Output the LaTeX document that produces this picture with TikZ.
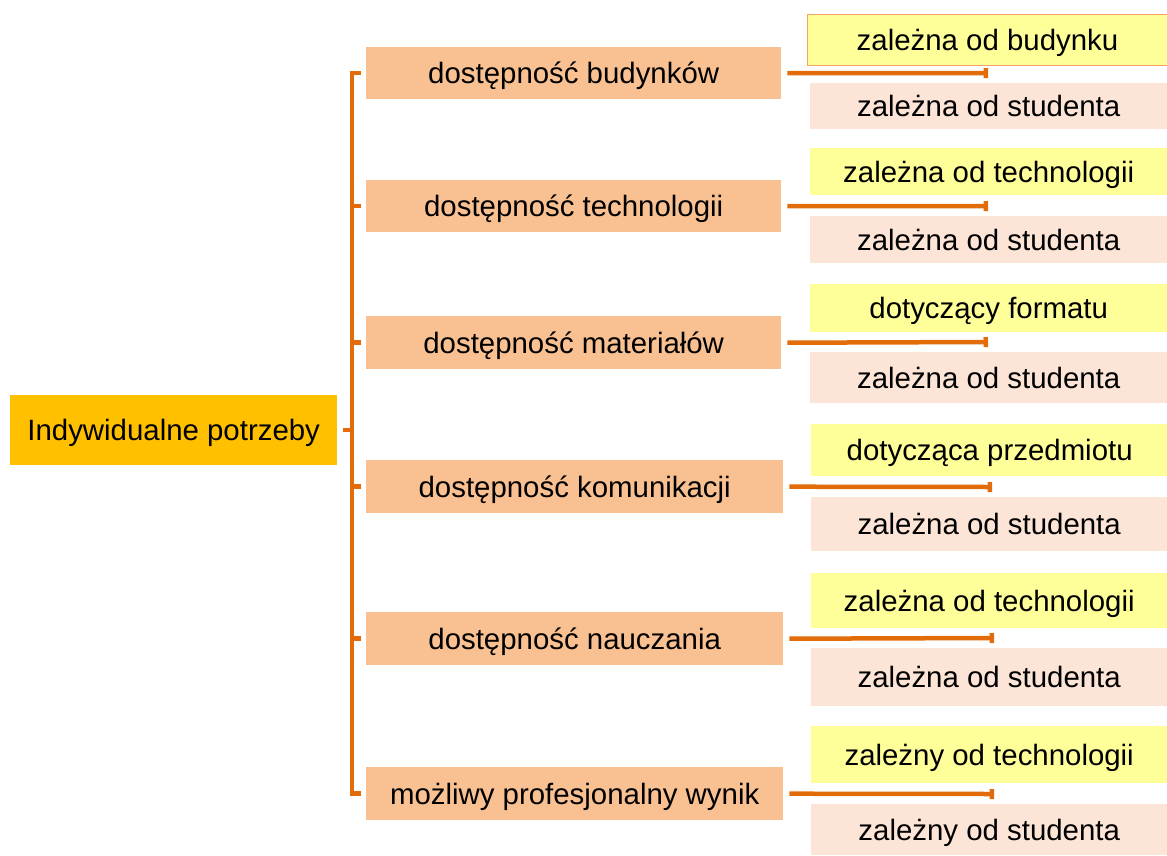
\documentclass[tikz,border=0pt]{standalone}
\usepackage{fontspec}
\setmainfont{Liberation Sans}
\usetikzlibrary{arrows.meta}
\definecolor{gold}{HTML}{FFC000}
\definecolor{peach}{HTML}{F9C191}
\definecolor{lyellow}{HTML}{FFFF99}
\definecolor{lpink}{HTML}{FCE5D7}
\definecolor{lineorange}{HTML}{E36C0A}
\definecolor{bordorange}{HTML}{F4A460}
\tikzset{
  box/.style={anchor=north west, inner sep=0pt, text height=27pt, text depth=6pt, font=\fontsize{29.4}{34}\selectfont, text=black},
  rootbox/.style={box, fill=gold},
  lvone/.style={box, fill=peach},
  yel/.style={box, fill=lyellow},
  pnk/.style={box, fill=lpink},
  conn/.style={draw=lineorange, line width=4.5pt},
  leaf/.style={conn, -{Rectangle[length=4.5pt,width=10pt]}}
}
\begin{document}
\begin{tikzpicture}[x=1pt,y=-1pt]
\useasboundingbox (0,0) rectangle (1167,855);
% root
\node[rootbox, minimum width=327pt, minimum height=70pt] (root) at (10,395) {Indywidualne potrzeby};
% level one
\node[lvone, minimum width=415pt, minimum height=52pt] (l1) at (366,47) {dostępność budynków};
\node[lvone, minimum width=415pt, minimum height=52pt] (l2) at (366,180) {dostępność technologii};
\node[lvone, minimum width=415pt, minimum height=53pt] (l3) at (366,316) {dostępność materiałów};
\node[lvone, minimum width=417pt, minimum height=53pt] (l4) at (366,460) {dostępność komunikacji};
\node[lvone, minimum width=417pt, minimum height=53pt] (l5) at (366,612) {dostępność nauczania};
\node[lvone, minimum width=417pt, minimum height=53pt] (l6) at (366,767) {możliwy profesjonalny wynik};
% level two
\node[yel, draw=bordorange, line width=1pt, minimum width=360pt, minimum height=51pt] (a1) at (807,14) {zależna od budynku};
\node[pnk, minimum width=357pt, minimum height=46pt] (b1) at (810,83) {zależna od studenta};
\node[yel, minimum width=357pt, minimum height=47pt] (a2) at (810,148) {zależna od technologii};
\node[pnk, minimum width=357pt, minimum height=47pt] (b2) at (810,216) {zależna od studenta};
\node[yel, minimum width=357pt, minimum height=48pt] (a3) at (810,284) {dotyczący formatu};
\node[pnk, minimum width=357pt, minimum height=51pt] (b3) at (810,352) {zależna od studenta};
\node[yel, minimum width=357pt, minimum height=52pt] (a4) at (811,424) {dotycząca przedmiotu};
\node[pnk, minimum width=356pt, minimum height=54pt] (b4) at (811,497) {zależna od studenta};
\node[yel, minimum width=356pt, minimum height=55pt] (a5) at (811,573) {zależna od technologii};
\node[pnk, minimum width=356pt, minimum height=58pt] (b5) at (811,648) {zależna od studenta};
\node[yel, minimum width=356pt, minimum height=57pt] (a6) at (811,726) {zależny od technologii};
\node[pnk, minimum width=356pt, minimum height=51pt] (b6) at (811,804) {zależny od studenta};
% bracket
\draw[conn] ([xshift=-5pt]l1.west) -- ([xshift=-14pt]l1.west) -- ([xshift=-14pt]l6.west) -- ([xshift=-5pt]l6.west);
\foreach \n in {l2,l3,l4,l5}{
  \draw[conn] ([xshift=-5pt]\n.west) -- ([xshift=-14pt]\n.west);
}
\draw[conn] ([xshift=6pt]root.east) -- ([xshift=15pt]root.east);
% leaf connectors
\coordinate (e1) at (988,73);
\coordinate (e2) at (988,206);
\coordinate (e3) at (988,342);
\coordinate (e4) at (992,487);
\coordinate (e5) at (994,638);
\coordinate (e6) at (994,794);
\draw[leaf] ([xshift=6pt]l1.east) -- (e1);
\draw[leaf] ([xshift=6pt]l2.east) -- (e2);
\draw[leaf] ([xshift=6pt]l3.east) -- (e3);
\draw[leaf] ([xshift=6pt]l4.east) -- (e4);
\draw[leaf] ([xshift=6pt]l5.east) -- (e5);
\draw[leaf] ([xshift=6pt]l6.east) -- (e6);
\end{tikzpicture}
\end{document}
